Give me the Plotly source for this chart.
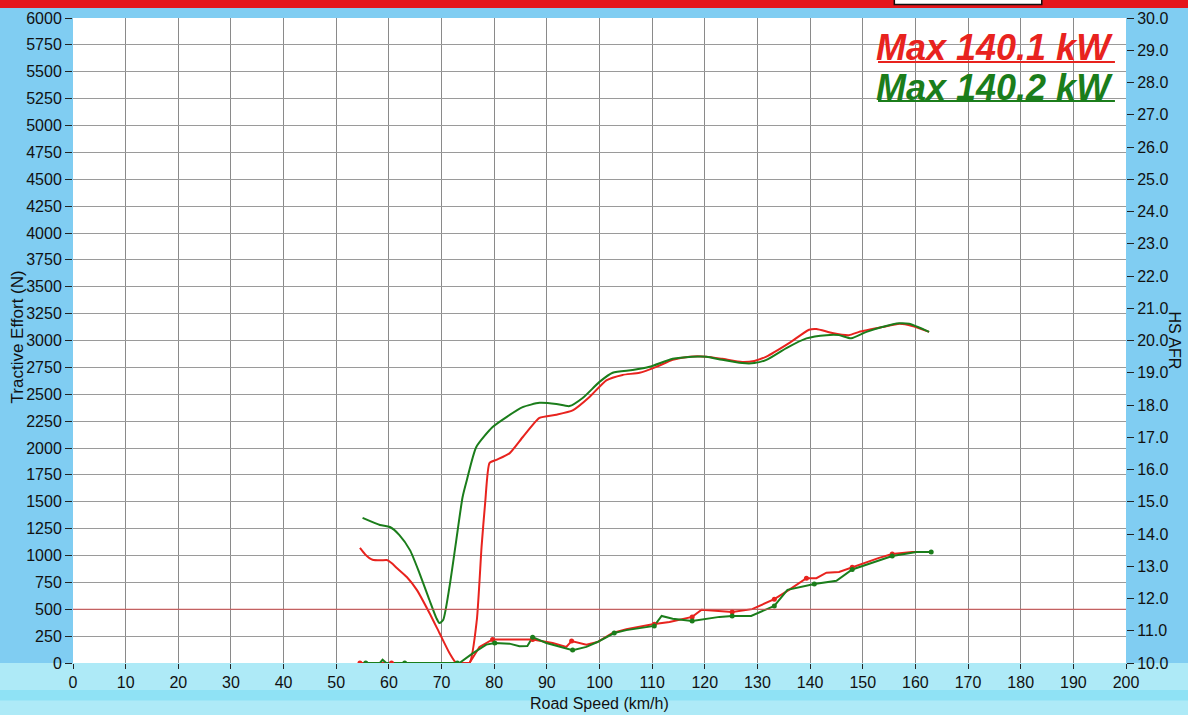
import plotly.graph_objects as go

# Tractive effort (N) vs road speed (km/h)
red_te_speed = [54.5, 55.5, 56.9, 58.5, 59.6, 60.5, 61.5, 63.4, 65.3, 67.7, 69.6, 71.5, 72.8, 75.3,
                76.7, 77.6, 78.3, 79.1, 80.4, 82.9, 85.4, 88.6, 91.8, 94.9, 98.1, 101.3, 104.4,
                107.6, 110.8, 113.9, 117.1, 120.3, 123.3, 127.1, 129.4, 131.7, 136.0, 139.8,
                141.2, 144.2, 147.4, 149.3, 153.7, 157.0, 159.4, 162.6]
red_te = [1070, 1010, 960, 955, 958, 930, 884, 800, 680, 465, 279, 93, 0, 0,
          400, 1080, 1500, 1860, 1890, 1950, 2100, 2280, 2310, 2350, 2475, 2630, 2680,
          2700, 2755, 2820, 2850, 2850, 2830, 2800, 2810, 2850, 2975, 3100,
          3107, 3070, 3050, 3080, 3125, 3155, 3135, 3080]

green_te_speed = [55.0, 58.3, 60.2, 62.0, 64.0, 65.8, 67.7, 69.0, 69.6, 70.3, 71.5, 72.8, 74.0,
                  74.8, 76.6, 79.7, 82.4, 85.4, 88.6, 91.8, 94.3, 96.8, 100.0, 102.5, 106.3,
                  109.5, 113.9, 117.6, 120.3, 123.3, 127.1, 129.4, 131.7, 135.5, 139.3, 143.1,
                  145.5, 147.8, 150.7, 153.7, 156.9, 158.8, 162.6]
green_te = [1350, 1284, 1265, 1190, 1050, 837, 586, 420, 372, 400, 707, 1144, 1544,
            1700, 2010, 2195, 2290, 2380, 2420, 2410, 2390, 2465, 2615, 2700, 2725,
            2755, 2830, 2850, 2850, 2820, 2790, 2790, 2820, 2930, 3020, 3050,
            3050, 3020, 3080, 3125, 3160, 3155, 3080]

# HS AFR vs road speed
red_afr_speed = [54.5, 58.0, 60.5, 65.0, 70.0, 75.3, 77.2, 79.7, 83.0, 87.3, 91.1, 93.7, 94.7,
                 97.5, 99.6, 102.5, 105.1, 110.1, 113.3, 117.6, 119.4, 125.2, 129.0, 133.2,
                 136.0, 139.3, 141.2, 143.1, 145.5, 148.0, 151.8, 153.1, 155.6, 159.4, 162.6]
red_afr = [10.00, 10.00, 10.00, 10.00, 10.00, 10.00, 10.50, 10.73, 10.73, 10.73, 10.62, 10.50, 10.68,
           10.57, 10.65, 10.93, 11.05, 11.20, 11.27, 11.43, 11.65, 11.58, 11.67, 11.98,
           12.27, 12.63, 12.63, 12.80, 12.82, 12.97, 13.19, 13.26, 13.38, 13.44, 13.44]

green_afr_speed = [55.6, 58.3, 58.8, 59.5, 63.0, 73.0, 73.4, 75.9, 78.5, 80.1, 82.9, 84.8, 86.3,
                   87.3, 89.9, 94.9, 97.5, 99.6, 102.8, 105.1, 110.4, 111.8, 113.9, 117.6,
                   122.8, 125.2, 128.8, 133.2, 135.7, 140.8, 145.0, 148.0, 151.8, 155.6, 160.2, 163.0]
green_afr = [10.00, 10.00, 10.10, 10.00, 10.00, 10.00, 10.00, 10.30, 10.57, 10.62, 10.60, 10.52, 10.53,
             10.80, 10.62, 10.40, 10.50, 10.65, 10.93, 11.02, 11.15, 11.46, 11.37, 11.30,
             11.43, 11.46, 11.46, 11.77, 12.27, 12.45, 12.55, 12.90, 13.10, 13.32, 13.44, 13.44]

red_dot_speed = [54.5, 60.5, 79.7, 87.3, 94.7, 110.4, 117.6, 125.2, 133.2, 139.3, 148.0, 155.6]
red_dot_afr = [10.00, 10.00, 10.73, 10.73, 10.68, 11.20, 11.43, 11.58, 11.98, 12.63, 12.97, 13.38]
green_dot_speed = [55.6, 63.0, 73.0, 80.1, 87.3, 94.9, 102.8, 110.4, 117.6, 125.2, 133.2, 140.8, 148.0, 155.6, 163.0]
green_dot_afr = [10.00, 10.00, 10.00, 10.62, 10.80, 10.40, 10.93, 11.15, 11.30, 11.46, 11.77, 12.45, 12.90, 13.32, 13.44]

max_labels = ["Max 140.1 kW", "Max 140.2 kW"]

RED = "#e8231e"
GREEN = "#1b7d1b"
FONT = "Liberation Sans, Arial, sans-serif"

fig = go.Figure()
fig.add_trace(go.Scatter(x=red_te_speed, y=red_te, mode="lines", line=dict(color=RED, width=2, shape="spline", smoothing=0.5), showlegend=False))
fig.add_trace(go.Scatter(x=green_te_speed, y=green_te, mode="lines", line=dict(color=GREEN, width=2, shape="spline", smoothing=0.6), showlegend=False))
fig.add_trace(go.Scatter(x=red_afr_speed, y=red_afr, yaxis="y2", mode="lines", line=dict(color=RED, width=2), showlegend=False))
fig.add_trace(go.Scatter(x=green_afr_speed, y=green_afr, yaxis="y2", mode="lines", line=dict(color=GREEN, width=2), showlegend=False))
fig.add_trace(go.Scatter(x=red_dot_speed, y=red_dot_afr, yaxis="y2", mode="markers", marker=dict(color=RED, size=5), showlegend=False))
fig.add_trace(go.Scatter(x=green_dot_speed, y=green_dot_afr, yaxis="y2", mode="markers", marker=dict(color=GREEN, size=5), showlegend=False))

axis_common = dict(showline=False, zeroline=False, ticks="outside", tickcolor="#222",
                   automargin=False, tickfont=dict(family=FONT, size=16, color="#111"))

fig.update_layout(
    width=1188, height=715,
    margin=dict(l=73, r=62, t=18, b=52),
    paper_bgcolor="#80cdf2",
    plot_bgcolor="#ffffff",
    font=dict(family=FONT, color="#111"),
    xaxis=dict(range=[0, 200], dtick=10, ticklen=5, showgrid=True, gridcolor="#8a8a8a", gridwidth=1, **axis_common),
    yaxis=dict(range=[0, 6000], dtick=250, ticklen=7, showgrid=True, gridcolor="#9a9a9a", gridwidth=1, **axis_common),
    yaxis2=dict(range=[10, 30], dtick=1, ticklen=7, overlaying="y", side="right", showgrid=False,
                tickformat=".1f", **axis_common),
)

# scan-like backgrounds
fig.add_shape(type="rect", xref="paper", yref="paper", x0=-0.08, x1=1.07, y0=0, y1=-0.09,
              fillcolor="#aeeaf7", line_width=0, layer="below")
fig.add_shape(type="rect", xref="paper", yref="paper", x0=-0.08, x1=1.07, y0=-0.042, y1=-0.058,
              fillcolor="#8fe2f5", line_width=0, layer="below")
fig.add_shape(type="rect", xref="paper", yref="paper", x0=-0.08, x1=1.07, y0=1.0155, y1=1.03,
              fillcolor="#e5161c", line_width=0, layer="below")
fig.add_shape(type="rect", xref="paper", yref="paper", x0=0.78, x1=0.92, y0=1.021, y1=1.03,
              fillcolor="#ffffff", line=dict(color="#111", width=1.5), layer="below")

# 500 N reference line
fig.add_shape(type="line", xref="paper", yref="y", x0=0, x1=1, y0=500, y1=500,
              line=dict(color="#d05050", width=1))

# Max power labels
label_y = [0.955, 0.892]
line_y = [0.9318, 0.8713]
for text, col, ty, ly in zip(max_labels, [RED, GREEN], label_y, line_y):
    fig.add_annotation(xref="paper", yref="paper", x=0.9895, y=ty, xanchor="right", yanchor="middle",
                       text="<b><i>" + text + "</i></b>", showarrow=False,
                       font=dict(family=FONT, size=36, color=col))
    fig.add_shape(type="line", xref="paper", yref="paper", x0=0.7645, x1=0.9895, y0=ly, y1=ly,
                  line=dict(color=col, width=2))

# axis titles
fig.add_annotation(xref="paper", yref="paper", x=1.0465, y=0.5, xanchor="center", yanchor="middle",
                   text="HS AFR", textangle=90,
                   showarrow=False, font=dict(family=FONT, size=16, color="#111"))
fig.add_annotation(xref="paper", yref="paper", x=-0.053, y=0.505, xanchor="center", yanchor="middle",
                   text="Tractive Effort (N)", textangle=-90,
                   showarrow=False, font=dict(family=FONT, size=17, color="#111"))
fig.add_annotation(xref="paper", yref="paper", x=0.5, y=-0.0625, xanchor="center", yanchor="middle",
                   text="Road Speed (km/h)",
                   showarrow=False, font=dict(family=FONT, size=16, color="#111"))

fig.write_html("out.html", config={"displayModeBar": False},
               post_script="document.body.style.margin='0px';document.body.style.overflow='hidden';")
